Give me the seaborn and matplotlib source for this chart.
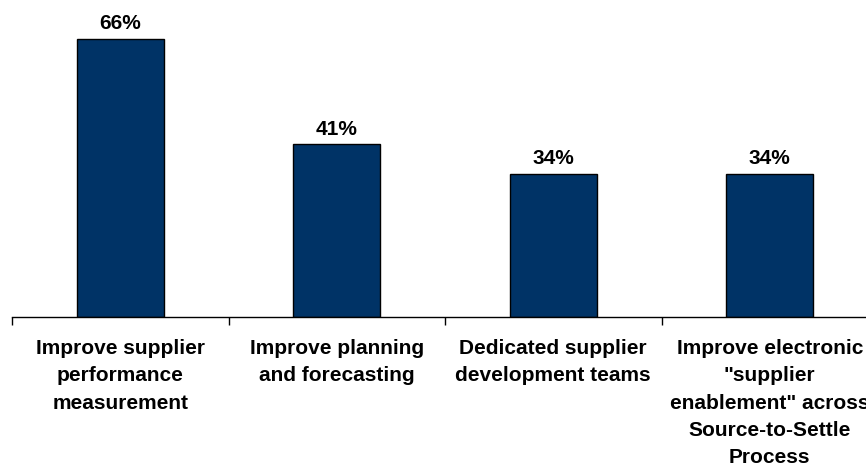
import matplotlib
matplotlib.use("Agg")
import matplotlib.pyplot as plt
import seaborn as sns
import pandas as pd

categories = [
    "Improve supplier\nperformance\nmeasurement",
    "Improve planning\nand forecasting",
    "Dedicated supplier\ndevelopment teams",
    "Improve electronic\n\"supplier\nenablement\" across\nSource-to-Settle\nProcess",
]
values = [66, 41, 34, 34]
value_labels = ["66%", "41%", "34%", "34%"]

sns.set_style("white")
plt.rcParams["font.family"] = ["Liberation Sans", "DejaVu Sans"]

df = pd.DataFrame({"category": categories, "value": values})

W, H = 866, 466
fig = plt.figure(figsize=(W / 100, H / 100), dpi=100)
# axes spans 4 equal category slots starting at x=12px; the last slot runs past the edge
left_px, right_px = 12, 878
axis_y_px = 317
ax = fig.add_axes([left_px / W, 1 - axis_y_px / H, (right_px - left_px) / W, axis_y_px / H])

sns.barplot(data=df, x="category", y="value", color="#003366", width=0.40,
            edgecolor="black", linewidth=1.0, saturation=1, ax=ax)

px_per_unit = 278 / 66
ax.set_ylim(0, axis_y_px / px_per_unit)
ax.set_xlim(-0.5, 3.5)

ax.bar_label(ax.containers[0], labels=value_labels, padding=4,
             fontsize=15, fontweight="bold", color="black")

for side in ("top", "right", "left"):
    ax.spines[side].set_visible(False)
ax.spines["bottom"].set_color("black")
ax.spines["bottom"].set_linewidth(1.0)
ax.set_yticks([])
ax.set_xlabel("")
ax.set_ylabel("")

# category labels centered in their slots; tick marks sit on slot boundaries
ax.set_xticks(range(len(categories)))
ax.set_xticklabels(categories, fontsize=15, fontweight="bold", linespacing=1.55,
                   va="top", color="black")
ax.tick_params(axis="x", which="major", length=0, pad=16)
ax.set_xticks([-0.5, 0.5, 1.5, 2.5, 3.5], minor=True)
ax.tick_params(axis="x", which="minor", length=6, width=1, color="black",
               direction="out", bottom=True)

fig.savefig("out.png", dpi=100)
